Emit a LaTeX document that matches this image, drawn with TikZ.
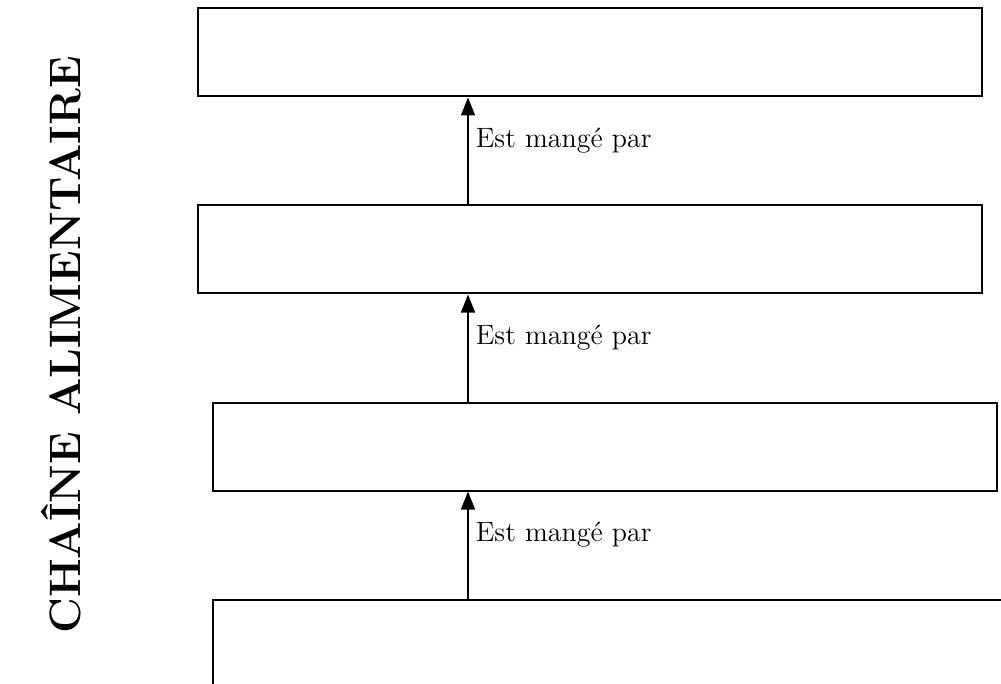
\documentclass[tikz,border=0pt]{standalone}
\usetikzlibrary{arrows.meta, positioning, calc}

\begin{document}
\begin{tikzpicture}[
    node distance=53.5pt,
    box/.style={rectangle, draw, line width=1pt, minimum width=392pt, minimum height=44pt, inner sep=0pt},
    arrow/.style={-{Triangle[width=7pt,length=9pt]}, line width=0.8pt},
    eats/.style={right, inner sep=3.5pt, font=\fontsize{14}{16}\selectfont}
]
    \useasboundingbox (0,0) rectangle (500.5pt,-342pt);
    \clip (0,0) rectangle (500.5pt,-342pt);

    % Title
    \node[rotate=90, font=\fontsize{22}{26}\selectfont\bfseries] (title) at (30.5pt,-172.5pt) {CHAÎNE ALIMENTAIRE};

    % Boxes, top to bottom
    \node[box] (top) at (295pt,-26.25pt) {};
    \node[box, below=of top] (second) {};
    \node[box, below=of second, xshift=7.5pt] (third) {};
    \node[box, minimum width=405pt, below=of third.south west, anchor=north west] (bottom) {};

    % Arrows
    \coordinate (axis) at (234pt,0);
    \draw[arrow] (second.north -| axis) -- (top.south -| axis) node[eats, pos=0.6] {Est mangé par};
    \draw[arrow] (third.north -| axis) -- (second.south -| axis) node[eats, pos=0.6] {Est mangé par};
    \draw[arrow] (bottom.north -| axis) -- (third.south -| axis) node[eats, pos=0.6] {Est mangé par};

\end{tikzpicture}
\end{document}
